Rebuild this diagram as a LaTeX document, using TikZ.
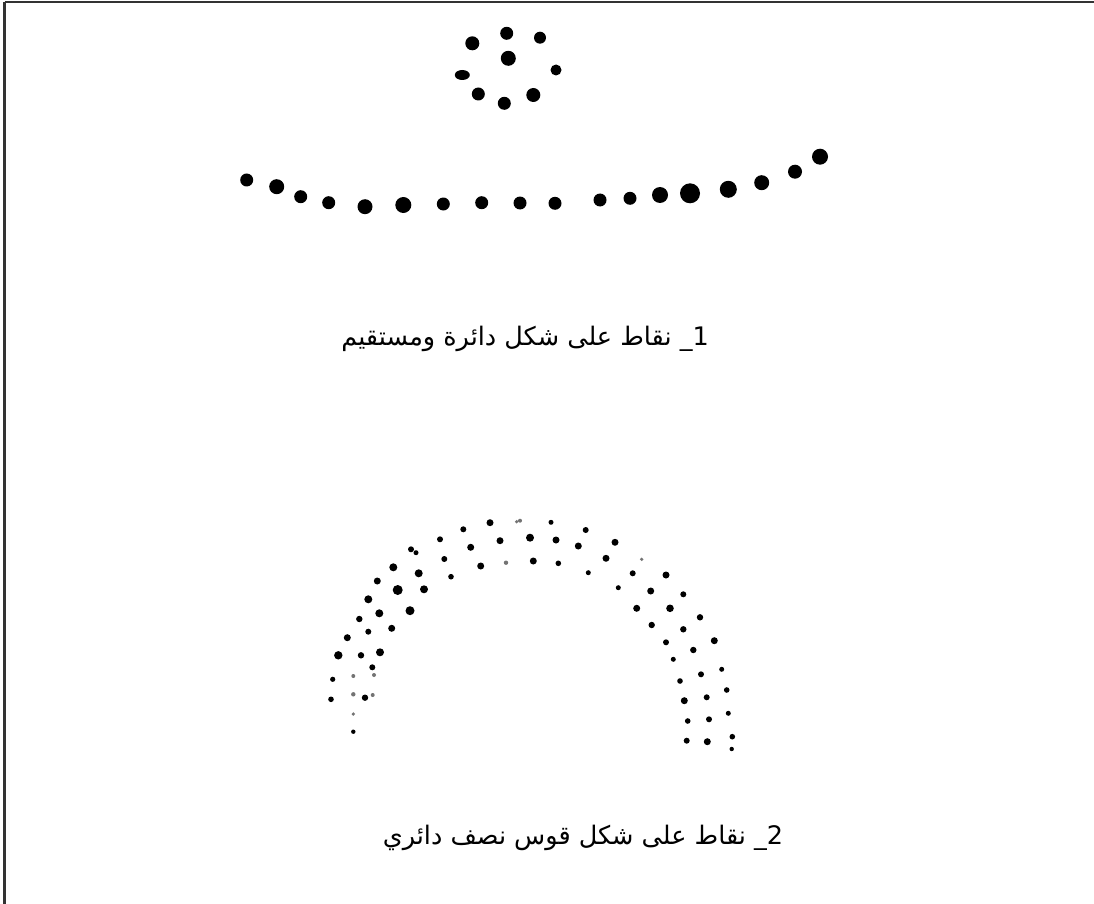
\documentclass[tikz,border=0pt]{standalone}
\usepackage{fontspec}
\newfontfamily\arabicfont[Script=Arabic]{DejaVu Sans}
\TeXXeTstate=1
\begin{document}
\begin{tikzpicture}[x=1pt,y=-1pt,
  dot/.style={fill=black,draw=none},
  faint/.style={fill=black!55,draw=none},
  frameline/.style={draw=black!80,line width=2.2pt},
  caption/.style={font=\arabicfont\fontsize{25.5}{30}\selectfont,inner sep=0pt}]
\useasboundingbox (0,0) rectangle (1094,904);
\fill[white] (0,0) rectangle (1094,904);
% frame (top and left only)
\draw[frameline] (4.5,2) -- (1094,2);
\draw[frameline] (4.5,2) -- (4.5,904);
% circle of dots
\foreach \x/\y/\r in {506.7/33.3/6.5, 540/37.7/6, 472.3/43.3/7, 508.3/58.3/7.5, 556/70/5.5,
  478.3/94/6.5, 533.3/95/7, 504.3/103.3/6.5}
  \fill[dot] (\x,\y) circle[radius=\r];
\fill[dot] (462.3,75) ellipse[x radius=7.5,y radius=5];
% line of dots
\foreach \x/\y/\r in {246.7/180/6.5, 276.7/186.7/7.5, 300.7/196.7/6.5, 328.7/202.7/6.5,
  365/206.7/7.5, 403.3/205/8, 443.3/204/6.5, 481.7/202.7/6.5, 520/203/6.5,
  555/203.3/6.5, 600/200/6.5, 630/198.3/6.5, 660/195/8, 690/193.3/10,
  728.3/189.3/8.5, 761.7/182.7/7.5, 795/171.7/7, 820/156.7/8}
  \fill[dot] (\x,\y) circle[radius=\r];
% arc of dots
\foreach \x/\y/\r in {490/522.7/3.5, 463.3/529.3/3, 440/539.3/3, 500/540.7/3.5,
  411/549.3/3, 416/552.7/2.5, 470.7/547.3/3.5, 444.3/559/3, 393.3/567.3/4,
  418.7/573.3/4, 480.7/566/3.5, 451/576.7/2.8, 377.3/581/3.5, 397.7/590/5,
  424/589.3/4, 368.3/599.3/4, 410/610.7/4.5, 379.3/613.3/4, 359.3/619/3.2,
  391.7/628.3/3.5, 368.3/631.7/3, 347.3/637.7/3.5, 338.3/655.3/4.2, 361/655.3/3.2,
  380/652.3/4, 372.3/667.3/3, 332.7/679.3/2.6, 331/699.3/2.8, 365/697.7/3.2,
  353.3/731.7/2.2, 551/522.3/2.5, 585.7/530/3,
  530/537.7/4, 556/540/3.5, 578.3/546/3.5, 615/542.3/3.5, 533.3/561/3.5,
  558.3/563.3/2.8, 606/558.3/3.5, 588.3/572.7/2.5, 632.7/573.3/3, 666/575/3.5,
  618.3/587.7/2.5, 650.7/591/3.5, 683.3/594.3/3, 636.7/608.3/3.5, 670/608.3/3.8,
  700/617.3/3.2, 651.7/625/3.2, 683.3/629.3/3.2, 666/642.3/3, 693.3/650/3.2,
  714.3/640.7/3.5, 673.3/659.3/2.5, 701/674.3/3, 721.7/669.3/2.5, 680/681/2.8,
  726.7/690/2.8, 684.3/700.7/3.5, 706.7/697.3/3, 728.3/713.3/2.5, 687.7/721/2.8,
  709/719.3/3, 686.7/740.7/3, 707.3/741.7/3.5, 732.3/736.7/2.8, 731.7/749/2.2}
  \fill[dot] (\x,\y) circle[radius=\r];
\foreach \x/\y/\r in {516.7/521.7/1.8, 520/520.7/2, 506/562.7/2.2, 641.7/559.3/1.8,
  374/675/2, 353.3/676/2, 353.3/694.3/2.2, 372.7/695/2, 353.3/714/1.8}
  \fill[faint] (\x,\y) circle[radius=\r];
% captions
\node[caption] (cap1) at (525,339) {\beginR 1\_ نقاط على شكل دائرة ومستقيم\endR};
\node[caption] (cap2) at (583,838) {\beginR 2\_ نقاط على شكل قوس نصف دائري\endR};
\end{tikzpicture}
\end{document}
